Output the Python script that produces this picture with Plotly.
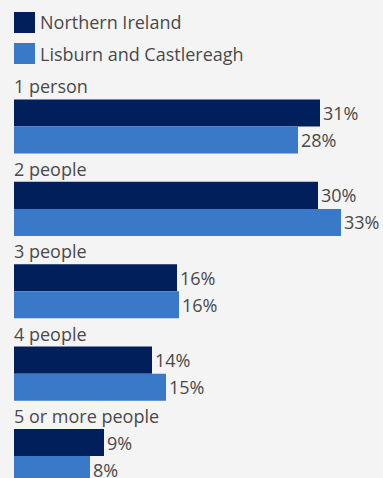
import plotly.graph_objects as go

categories = ["1 person", "2 people", "3 people", "4 people", "5 or more people"]
series_names = ["Northern Ireland", "Lisburn and Castlereagh"]
ni_values = [30.6, 30.4, 16.3, 13.8, 9.0]
lc_values = [28.4, 32.7, 16.5, 15.2, 7.6]
ni_labels = ["31%", "30%", "16%", "14%", "9%"]
lc_labels = ["28%", "33%", "16%", "15%", "8%"]

colors = ["#001f5b", "#3a78c8"]
text_color = "#4a4a4a"
bg = "#f4f4f4"
font_family = "Open Sans"
fs = 18

fig = go.Figure()
for name, vals, labs, col in [
    (series_names[0], ni_values, ni_labels, colors[0]),
    (series_names[1], lc_values, lc_labels, colors[1]),
]:
    fig.add_trace(go.Bar(
        name=name, y=categories, x=vals, orientation="h",
        marker=dict(color=col, line=dict(width=0)),
        text=labs, textposition="outside", cliponaxis=False,
        constraintext="none",
        textfont=dict(family=font_family, size=fs, color=text_color),
        showlegend=False, hoverinfo="skip",
    ))

annotations = []
for c in categories:
    annotations.append(dict(
        x=0, y=c, xref="x", yref="y", text=c, showarrow=False,
        xanchor="left", yanchor="middle", xshift=-2, yshift=40,
        font=dict(family=font_family, size=fs, color=text_color),
    ))

# custom legend (swatches + labels)
shapes = []
leg_rows = [(12, 33), (43, 64)]
H = 478
for (top, bot), name, col in zip(leg_rows, series_names, colors):
    shapes.append(dict(type="rect", xref="paper", yref="paper",
                       x0=0, x1=21 / 369, y0=1 - bot / H, y1=1 - top / H,
                       fillcolor=col, line=dict(width=0)))
    annotations.append(dict(
        x=24 / 369, y=1 - (top + bot) / 2 / H, xref="paper", yref="paper",
        text=name, showarrow=False, xanchor="left", yanchor="middle",
        font=dict(family=font_family, size=fs, color=text_color),
    ))

fig.update_layout(
    width=383, height=478,
    margin=dict(l=14, r=0, t=0, b=0),
    paper_bgcolor=bg, plot_bgcolor=bg,
    barmode="group", bargap=0.343, bargroupgap=0,
    xaxis=dict(range=[0, 36.9], visible=False, fixedrange=True),
    yaxis=dict(range=[4.266, -1.535], visible=False, fixedrange=True),
    annotations=annotations, shapes=shapes,
    font=dict(family=font_family, size=fs, color=text_color),
)

fig.write_html(
    "out.html",
    config={"displayModeBar": False},
    post_script="document.body.style.margin='0';document.body.style.overflow='hidden';document.body.style.background='#f4f4f4';",
)
